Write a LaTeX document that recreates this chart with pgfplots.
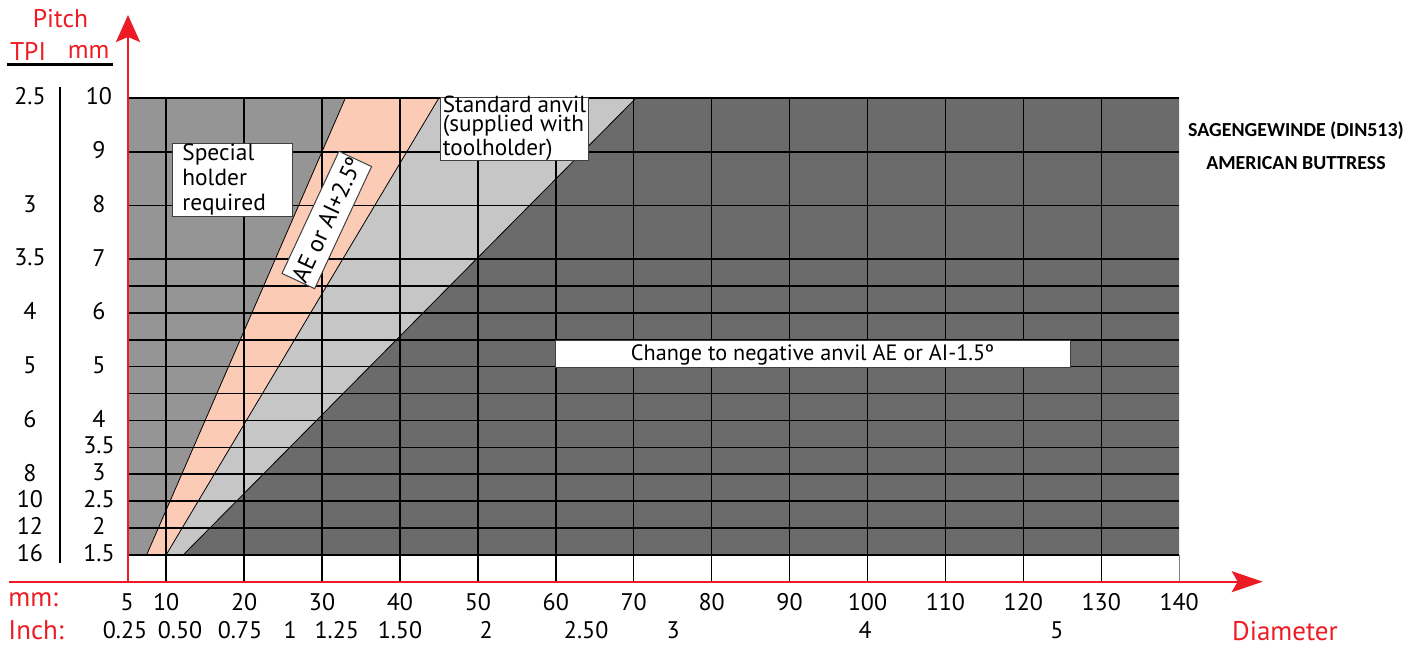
\documentclass[border=0pt]{standalone}
\usepackage{pgfplots}
\pgfplotsset{compat=1.18}
\usepackage{fontspec}
\setmainfont{PT Sans}
\newfontfamily\calib{Carlito}
\usetikzlibrary{arrows.meta}
\definecolor{medg}{HTML}{959595}
\definecolor{lightg}{HTML}{C6C6C6}
\definecolor{darkg}{HTML}{6B6B6B}
\definecolor{salmon}{HTML}{FBCBB6}
\definecolor{myred}{HTML}{ED1C24}
\newcommand\tk{\fontsize{12}{13}\selectfont}
\newcommand\rd{\fontsize{13.5}{15}\selectfont}
\newcommand\hd{\fontsize{12.8}{14}\selectfont}
\begin{document}
\begin{tikzpicture}
\begin{axis}[
  at={(0,0)}, anchor=south west,
  scale only axis, width=526pt, height=241.85pt,
  xmin=5, xmax=140, ymin=1, ymax=10,
  axis line style={draw=none},
  xtick={10,20,...,130},
  ytick={1.5,2,2.5,3,3.5,4,4.5,5,5.5,6,6.5,7,8,9,10},
  xticklabels={}, yticklabels={},
  major tick length=0pt,
  grid=major, major grid style={black, line width=0.75pt},
  axis on top, clip=false,
]
% regions
\addplot[fill=medg, draw=none] coordinates {(5,1.5) (7.5,1.5) (33,10) (5,10)} -- cycle;
\addplot[fill=salmon, draw=none] coordinates {(7.5,1.5) (10,1.5) (45,10) (33,10)} -- cycle;
\addplot[fill=lightg, draw=none] coordinates {(10,1.5) (12.2,1.5) (70.3,10) (45,10)} -- cycle;
\addplot[fill=darkg, draw=none] coordinates {(12.2,1.5) (140,1.5) (140,10) (70.3,10)} -- cycle;
% boundaries
\addplot[black, line width=0.4pt] coordinates {(7.5,1.5) (33,10)};
\addplot[black, line width=0.4pt] coordinates {(10,1.5) (45,10)};
\addplot[black, line width=0.4pt] coordinates {(12.2,1.5) (70.3,10)};
\addplot[gray, line width=0.4pt] coordinates {(140,1) (140,1.5)};
% mm diameter labels
\pgfplotsinvokeforeach{5,10,20,30,40,50,60,70,80,90,100,110,120,130,140}{
  \node[font=\tk, yshift=-10.15pt] at (axis cs:#1,1) {#1};}
% inch labels
\node[font=\tk, yshift=-24.15pt] at (axis cs:4.72,1) {0.25};
\node[font=\tk, yshift=-24.15pt] at (axis cs:11.78,1) {0.50};
\node[font=\tk, yshift=-24.15pt] at (axis cs:19.48,1) {0.75};
\node[font=\tk, yshift=-24.15pt] at (axis cs:25.9,1) {1};
\node[font=\tk, yshift=-24.15pt] at (axis cs:31.9,1) {1.25};
\node[font=\tk, yshift=-24.15pt] at (axis cs:40.0,1) {1.50};
\node[font=\tk, yshift=-24.15pt] at (axis cs:51.06,1) {2};
\node[font=\tk, yshift=-24.15pt] at (axis cs:63.9,1) {2.50};
\node[font=\tk, yshift=-24.15pt] at (axis cs:75.07,1) {3};
\node[font=\tk, yshift=-24.15pt] at (axis cs:99.7,1) {4};
\node[font=\tk, yshift=-24.15pt] at (axis cs:124.3,1) {5};
% pitch mm labels
\pgfplotsinvokeforeach{10,9,8,7,6,5,4,3.5,3,2.5,2,1.5}{
  \node[font=\tk, xshift=-14.1pt, yshift=0.8pt] at (axis cs:5,#1) {#1};}
% TPI labels
\node[font=\tk, xshift=-48.6pt, yshift=0.8pt] at (axis cs:5,10) {2.5};
\node[font=\tk, xshift=-48.6pt, yshift=0.8pt] at (axis cs:5,8) {3};
\node[font=\tk, xshift=-48.6pt, yshift=0.8pt] at (axis cs:5,7) {3.5};
\node[font=\tk, xshift=-48.6pt, yshift=0.8pt] at (axis cs:5,6) {4};
\node[font=\tk, xshift=-48.6pt, yshift=0.8pt] at (axis cs:5,5) {5};
\node[font=\tk, xshift=-48.6pt, yshift=0.8pt] at (axis cs:5,4) {6};
\node[font=\tk, xshift=-48.6pt, yshift=0.8pt] at (axis cs:5,3) {8};
\node[font=\tk, xshift=-48.6pt, yshift=0.8pt] at (axis cs:5,2.5) {10};
\node[font=\tk, xshift=-48.6pt, yshift=0.8pt] at (axis cs:5,2) {12};
\node[font=\tk, xshift=-48.6pt, yshift=0.8pt] at (axis cs:5,1.5) {16};
\end{axis}
% red axes
\draw[myred, line width=1.1pt, -{Stealth[length=13.5pt,width=12pt,inset=2.5pt]}] (0.4pt,0pt) -- (0.4pt,283.35pt);
\draw[myred, line width=1.1pt, -{Stealth[length=15.5pt,width=10.5pt,inset=3pt]}] (-59.1pt,0pt) -- (567.75pt,0pt);
% header
\node[font=\hd, text=myred] at (-33.35pt,281.6pt) {Pitch};
\node[font=\hd, text=myred] at (-49.6pt,265.0pt) {TPI};
\node[font=\hd, text=myred] at (-19.3pt,265.0pt) {mm};
\draw[black, line width=1.5pt] (-60.1pt,258.35pt) -- (-7.1pt,258.35pt);
\draw[black, line width=0.6pt] (-33.6pt,247.35pt) -- (-33.6pt,9.35pt);
% bottom labels
\node[font=\rd, text=myred, anchor=west, inner sep=0pt] at (-59.6pt,-9.15pt) {mm:};
\node[font=\rd, text=myred, anchor=west, inner sep=0pt] at (-59.6pt,-24.15pt) {Inch:};
\node[font=\rd, text=myred] at (578.9pt,-24.65pt) {Diameter};
% right title
\node[font=\calib\bfseries\fontsize{9.95}{11}\selectfont] at (584.4pt,225.35pt) {SAGENGEWINDE (DIN513)};
\node[font=\calib\bfseries\fontsize{9.95}{11}\selectfont] at (584.4pt,209.35pt) {AMERICAN BUTTRESS};
% boxes
\draw[fill=white, draw=black!75, line width=0.5pt] (22.75pt,218.85pt) rectangle (82.75pt,182.5pt);
\node[anchor=west, align=left, inner sep=0pt, font=\fontsize{11.7}{12.5}\selectfont] at (27.4pt,200.85pt) {Special\\holder\\required};
\draw[fill=white, draw=black!75, line width=0.5pt] (156.75pt,242.2pt) rectangle (230.55pt,210.35pt);
\node[anchor=west, align=left, inner sep=0pt, font=\fontsize{11.6}{9.5}\selectfont] at (157.6pt,226.85pt) {Standard anvil\\(supplied with\\toolholder)};
\node[draw=black!75, fill=white, line width=0.5pt, rotate=65, minimum width=64pt, minimum height=18pt, inner sep=0pt, font=\fontsize{12}{13}\selectfont] at (99.8pt,180.85pt) {AE or AI+2.5º};
\draw[fill=white, draw=black!75, line width=0.5pt] (213.9pt,120.35pt) rectangle (471.4pt,106.85pt);
\node[font=\fontsize{11.1}{12}\selectfont] at (342.65pt,113.6pt) {Change to negative anvil AE or AI-1.5º};
% bounding box
\path (-63.6pt,-31.15pt) rectangle (646.4pt,290.85pt);
\end{tikzpicture}
\end{document}
